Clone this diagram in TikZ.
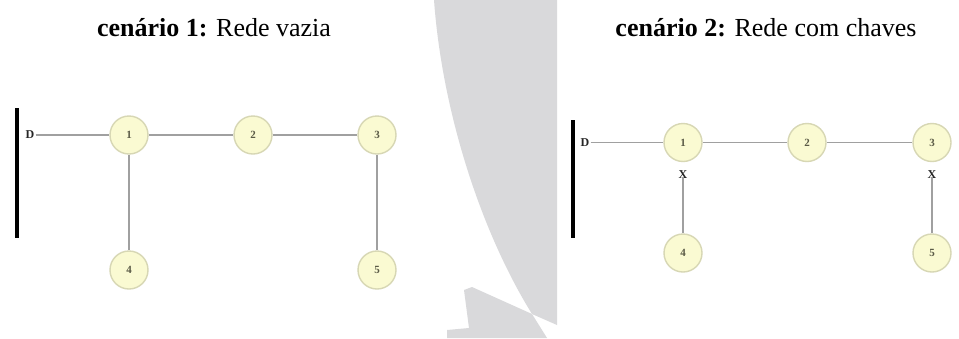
\documentclass[tikz,border=0pt]{standalone}
\usepackage{fontspec}
\setmainfont{Liberation Serif}
\definecolor{wmark}{RGB}{217,217,219}
\definecolor{nodefill}{RGB}{250,250,210}
\definecolor{nodeborder}{RGB}{215,215,180}
\definecolor{numcol}{RGB}{90,90,70}
\definecolor{wirecol}{RGB}{160,160,160}
\begin{document}
\begin{tikzpicture}[x=1pt,y=-1pt,
  nd/.style={circle, draw=nodeborder, fill=nodefill, line width=1.4pt, minimum size=38pt, inner sep=0pt, font=\fontsize{11}{12}\selectfont\bfseries, text=numcol},
  wire/.style={draw=wirecol, line width=1.2pt},
  busbar/.style={line width=3.5pt, black},
  lbl/.style={font=\fontsize{12}{13}\selectfont\bfseries, inner sep=1pt, text=black!85},
  ttl/.style={font=\fontsize{26}{30}\selectfont, inner sep=0pt}]
\useasboundingbox (0,0) rectangle (959,338);
\fill[white] (0,0) rectangle (959,338);
% watermark shape
\fill[wmark] (434,0) .. controls (442,110) and (480,230) .. (532,314) -- (557,325) -- (557,0) -- cycle;
\fill[wmark] (472,287) -- (532,314) -- (547,338) -- (447,338) -- (447,330) -- (469,328) -- (464,290) -- cycle;
% titles
\node[ttl] (t1) at (214,28) {\textbf{cenário 1:} Rede vazia};
\node[ttl] (t2) at (766,28) {\textbf{cenário 2:} Rede com chaves};
% scenario 1
\draw[busbar] (17,108) -- (17,238);
\node[lbl] (dA) at (30,135) {D};
\node[nd] (a1) at (129,135) {1};
\node[nd] (a2) at (253,135) {2};
\node[nd] (a3) at (377,135) {3};
\node[nd] (a4) at (129,270) {4};
\node[nd] (a5) at (377,270) {5};
\draw[wire] (dA.east) -- (a1);
\draw[wire] (a1) -- (a2);
\draw[wire] (a2) -- (a3);
\draw[wire] (a1) -- (a4);
\draw[wire] (a3) -- (a5);
% scenario 2
\draw[busbar] (573,120) -- (573,238);
\node[lbl] (dB) at (585,142.5) {D};
\node[nd] (b1) at (683,142.5) {1};
\node[nd] (b2) at (807,142.5) {2};
\node[nd] (b3) at (932,142.5) {3};
\node[nd] (b4) at (683,253) {4};
\node[nd] (b5) at (932,253) {5};
\node[lbl] (x1) at (683,175) {X};
\node[lbl] (x3) at (932,175) {X};
\draw[wire] (dB.east) -- (b1);
\draw[wire] (b1) -- (b2);
\draw[wire] (b2) -- (b3);
\draw[wire] ([yshift=3pt]x1.south) -- (b4);
\draw[wire] ([yshift=3pt]x3.south) -- (b5);
\end{tikzpicture}
\end{document}
